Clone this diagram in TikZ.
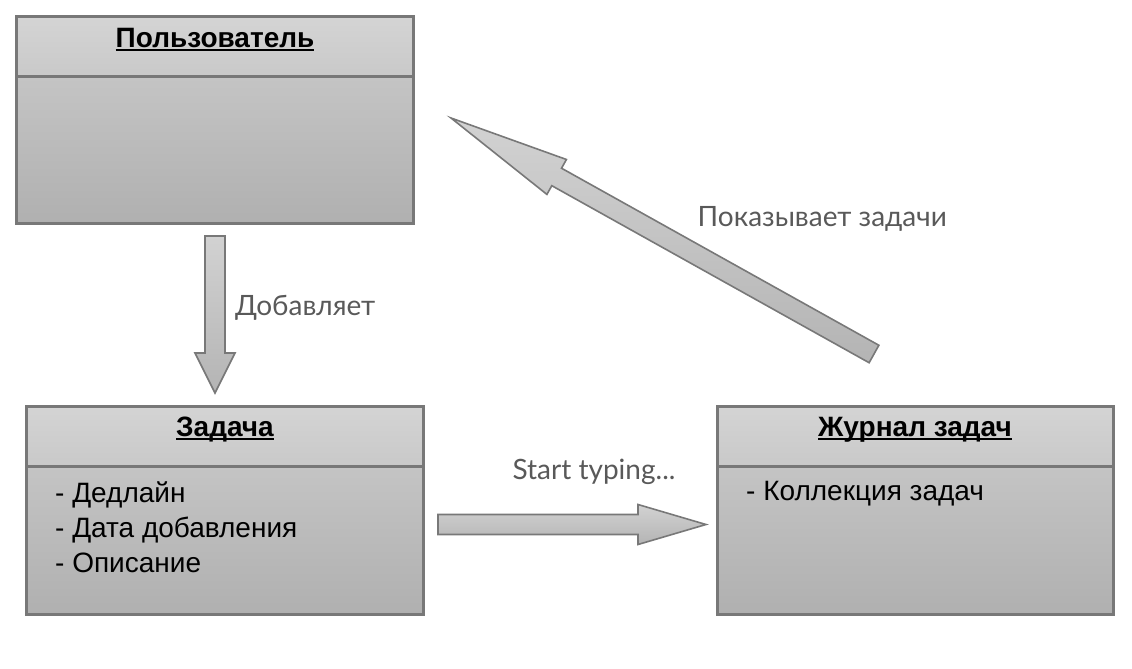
\documentclass[tikz,border=0pt]{standalone}
\usepackage{fontspec}
\setmainfont{Liberation Sans}
\newfontfamily\latofont{Lato}
\usepackage{tikz}
\usetikzlibrary{positioning, calc}

\definecolor{headtop}{HTML}{D4D4D4}
\definecolor{headbot}{HTML}{C9C9C9}
\definecolor{bodytop}{HTML}{C4C4C4}
\definecolor{bodybot}{HTML}{B0B0B0}
\definecolor{edgegray}{HTML}{787878}
\definecolor{arrowtop}{HTML}{D2D2D2}
\definecolor{arrowbot}{HTML}{B4B4B4}
\definecolor{labelgray}{HTML}{595959}

% bold class name with a fixed underline
\newcommand{\classtitle}[1]{\setbox0\hbox{\bfseries #1}\rlap{\rule[-3.6pt]{\wd0}{1.9pt}}\box0}

% block arrow: tail, tip, head length
\newcommand{\fatarrow}[3]{%
  \coordinate (hb) at ($(#2)!#3!(#1)$);
  \path[fat] ($(#1)!10pt!90:(#2)$) -- ($(hb)!10pt!-90:(#1)$) -- ($(hb)!20pt!-90:(#1)$) -- (#2)
    -- ($(hb)!20pt!90:(#1)$) -- ($(hb)!10pt!90:(#1)$) -- ($(#1)!10pt!-90:(#2)$) -- cycle;
}

\begin{document}
\begin{tikzpicture}[
  x=1pt, y=1pt,
  font=\fontsize{28}{35}\selectfont,
  header/.style={draw=edgegray, line width=3pt, top color=headtop, bottom color=headbot,
                 minimum width=396pt, text height=20.2pt, text depth=18.8pt, inner ysep=10.5pt,
                 outer sep=0pt},
  bodybox/.style={draw=edgegray, line width=3pt, top color=bodytop, bottom color=bodybot,
                  minimum width=396pt, minimum height=146pt, outer sep=0pt},
  attrs/.style={anchor=north west, inner sep=0pt, align=left},
  lbl/.style={font=\latofont\fontsize{28}{32}\selectfont, text=labelgray, inner sep=0pt},
  fat/.style={draw=edgegray, line width=1.6pt, top color=arrowtop, bottom color=arrowbot,
              line join=miter},
]
% Classes
\node[header] (userhead) {\classtitle{Пользователь}};
\node[bodybox, below=0pt of userhead] (userbody) {};

\node[header, below=183pt of userbody.south, xshift=10pt] (taskhead) {\classtitle{Задача}};
\node[bodybox, below=0pt of taskhead, minimum height=148pt] (taskbody) {};
\node[attrs] (taskattrs) at ($(taskbody.north west)+(28,-15.5)$)
  {- Дедлайн\\- Дата добавления\\- Описание};

\node[header, right=294pt of taskhead] (loghead) {\classtitle{Журнал задач}};
\node[bodybox, below=0pt of loghead, minimum height=148pt] (logbody) {};
\node[attrs] (logattrs) at ($(logbody.north west)+(29,-15.5)$) {- Коллекция задач};

\path[use as bounding box] ($(userhead.north west)+(-17,17)$) rectangle +(1132,-669);

% Arrows
\coordinate (addtail) at ($(userbody.south)+(0,-13)$);
\coordinate (addtip) at ($(addtail |- taskhead.north)+(0,13)$);
\fatarrow{addtail}{addtip}{40pt}

\coordinate (typetail) at ($(taskbody.east)+(15,15.5)$);
\coordinate (typetip) at ($(typetail -| logbody.west)+(-11,0)$);
\fatarrow{typetail}{typetip}{68pt}

\coordinate (showtail) at ($(loghead.north)+(-41,52)$);
\coordinate (showtip) at ($(userbody.east)+(38,32)$);
\fatarrow{showtail}{showtip}{121pt}

% Labels
\node[lbl, anchor=west] (addlbl) at ($(addtail)!0.5!(addtip)+(20,6.5)$) {Добавляет};
\node[lbl, anchor=west] (showlbl) at ($(showtail)!0.5!(showtip)+(35,17)$) {Показывает задачи};
\node[lbl] (typelbl) at ($(typetail)!0.5!(typetip)+(22,53)$) {Start typing...};
\end{tikzpicture}
\end{document}
